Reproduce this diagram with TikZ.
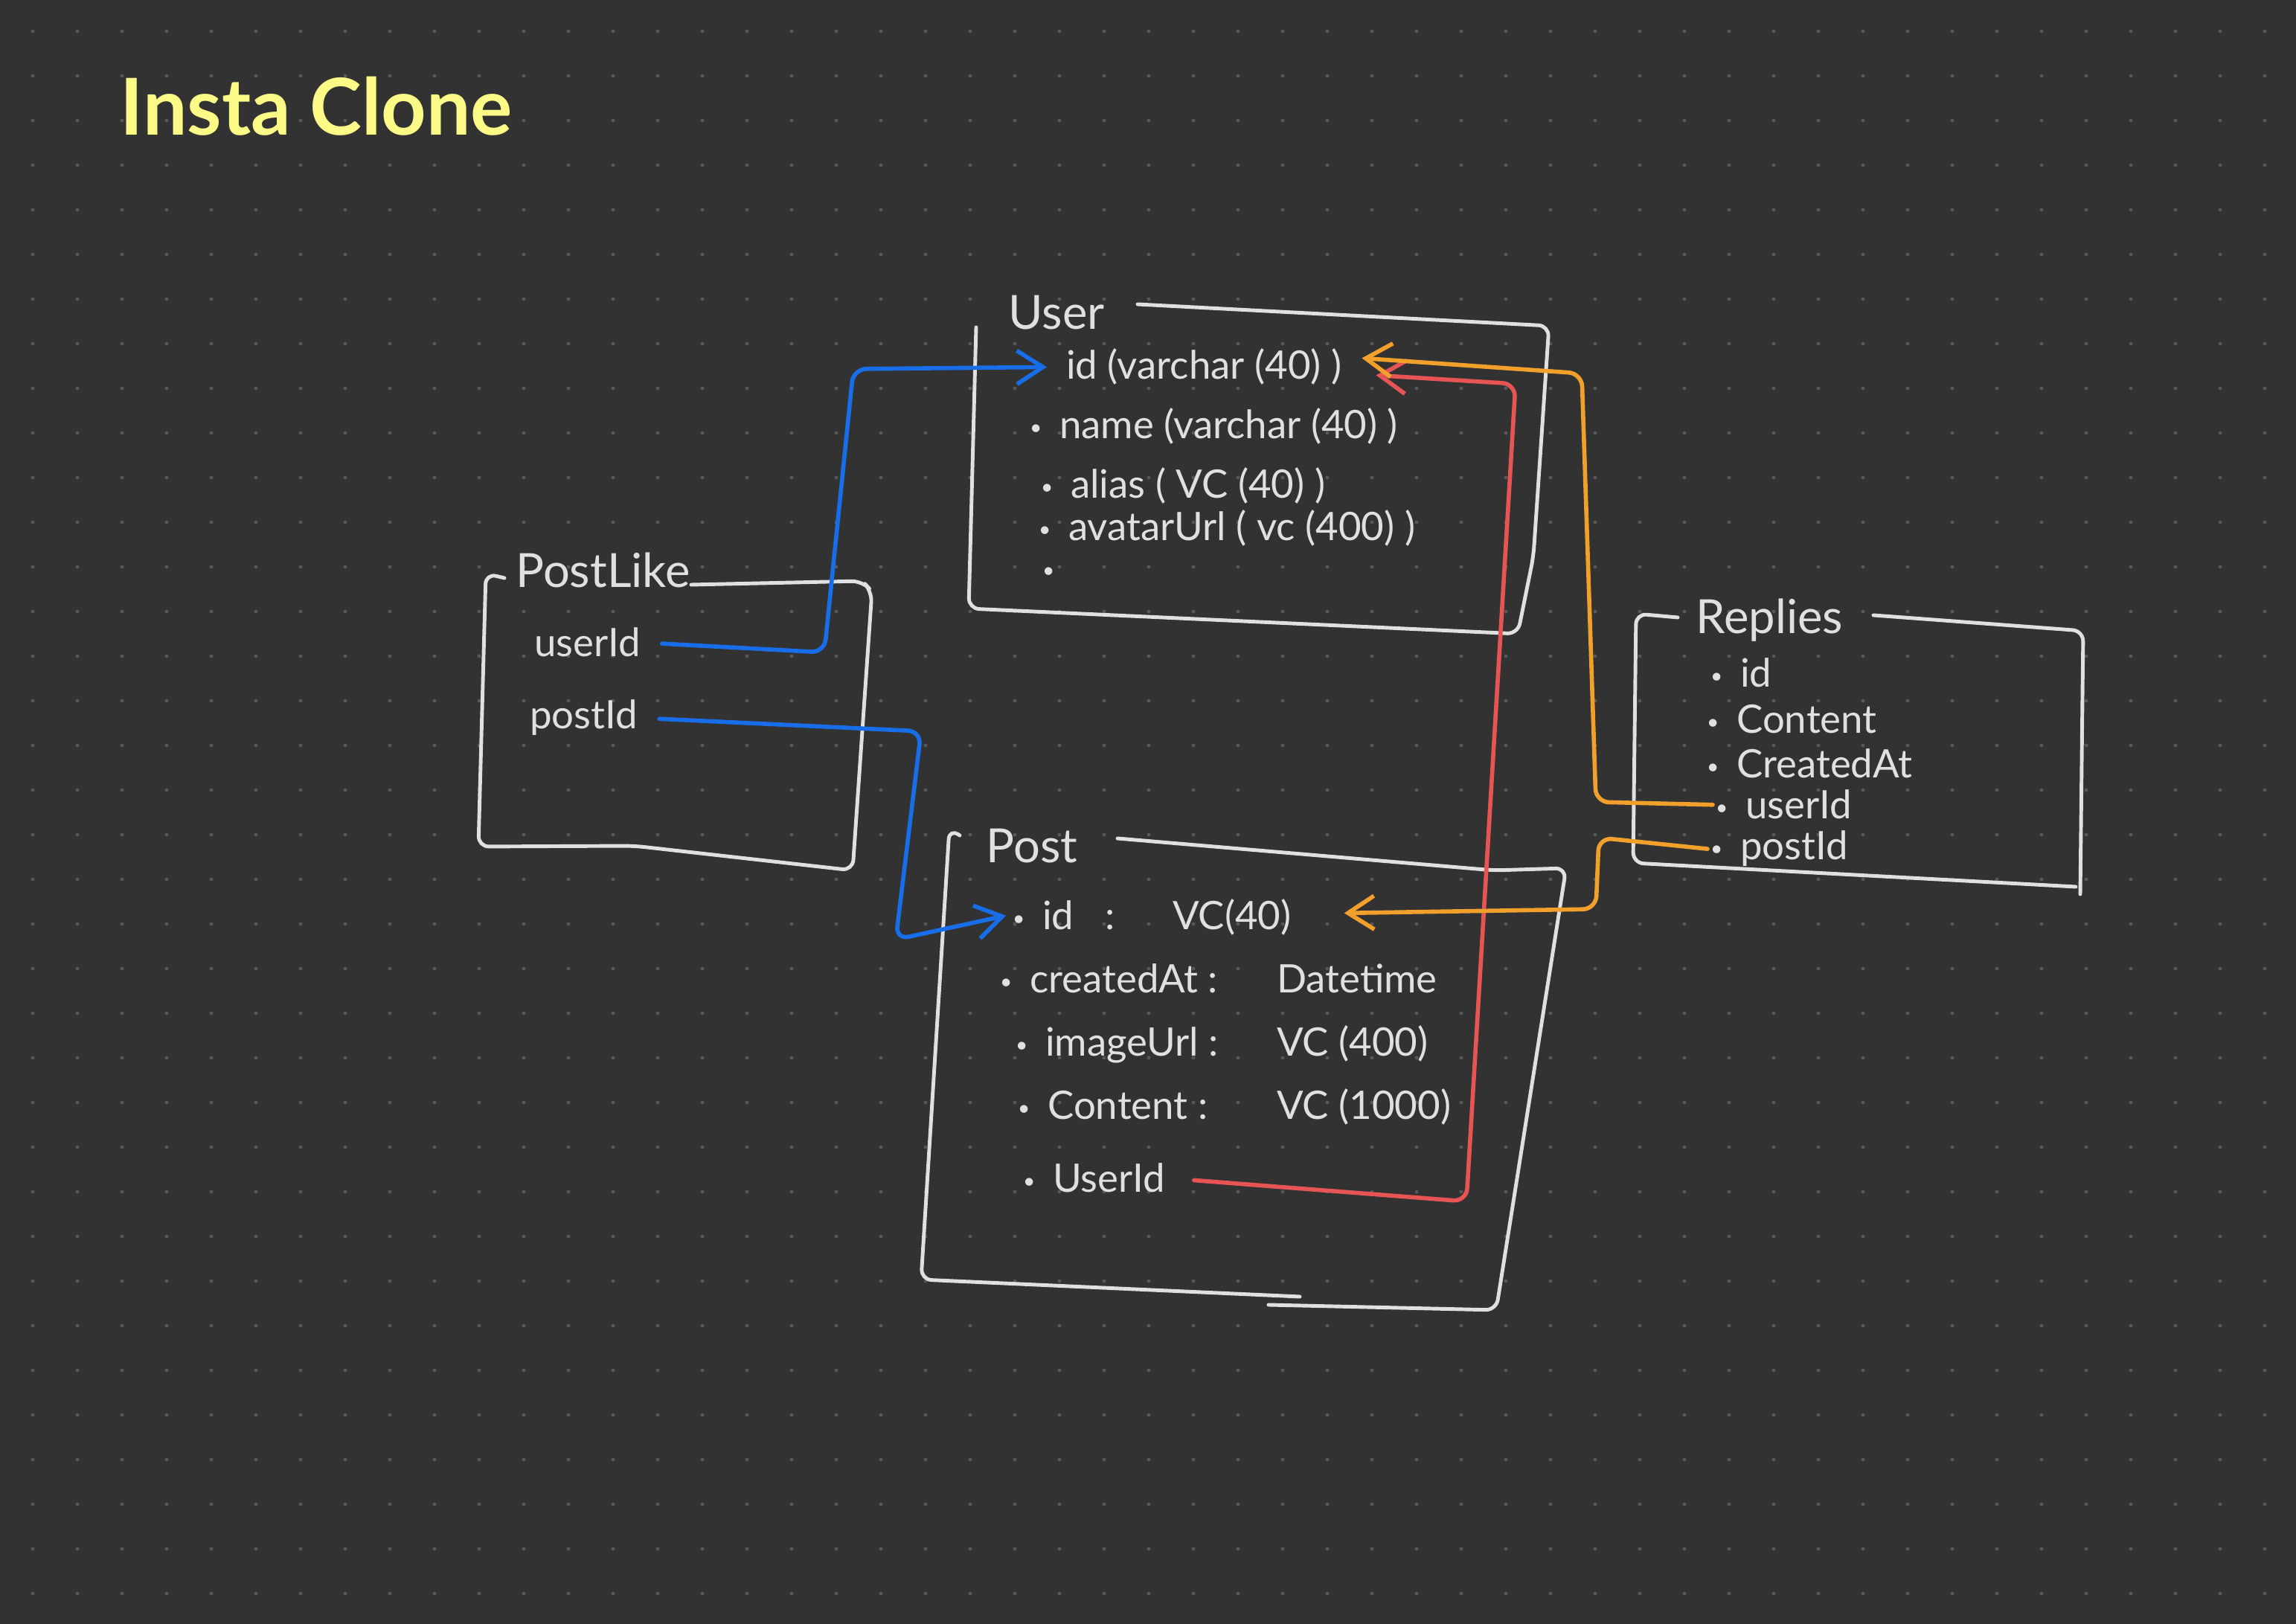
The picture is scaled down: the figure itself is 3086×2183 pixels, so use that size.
\documentclass[tikz,border=0pt]{standalone}
\usepackage{fontspec}
\setmainfont{Lato}
\usetikzlibrary{arrows.meta}
\usetikzlibrary{positioning}

\definecolor{fundo}{RGB}{50,50,50}
\definecolor{ponto}{RGB}{86,86,86}
\definecolor{giz}{RGB}{224,224,224}
\definecolor{azul}{RGB}{24,110,232}
\definecolor{vermelho}{RGB}{230,84,84}
\definecolor{laranja}{RGB}{242,160,44}
\definecolor{amarelo}{RGB}{252,250,135}

\newcommand{\bul}{\raisebox{0.2ex}{\fontsize{8}{8}\selectfont\textbullet}\hspace{0.45em}}

\begin{document}
\begin{tikzpicture}[x=0.01cm, y=-0.01cm, >={Straight Barb[length=3.5mm,width=4.5mm]},
	tabela/.style={draw=giz, line width=1.4pt, rounded corners=4pt, line cap=round, line join=round},
	ligacao/.style={line width=1.6pt, rounded corners=5pt, line cap=round},
	cabecalho/.style={text=giz, anchor=base west, inner sep=0pt, font=\fontsize{18}{20}\selectfont},
	campo/.style={text=giz, anchor=base west, inner sep=1pt, font=\fontsize{15}{17}\selectfont}]

	% Fundo pontilhado
	\fill[fundo] (0,0) rectangle (3086,2183);
	\useasboundingbox (0,0) rectangle (3086,2183);
	\foreach \i in {0,...,50}
		\foreach \j in {0,...,35}
			\fill[ponto] (44+60*\i, 42+60*\j) circle (0.25mm);

	% Titulo
	\node[anchor=base west, inner sep=0pt, text=amarelo, font=\fontsize{30}{34}\selectfont\bfseries] (nome) at (161,182) {Insta Clone};

	% Tabela User
	\node[cabecalho] (uTitulo) at (1355,443) {User};
	\draw[tabela] (1312,440) -- (1302,818) -- (2040,852) -- (2061,748) -- (2082,438) -- (1529,409);
	\node[campo] (uId) at (1429,510) {id (varchar (40) )};
	\node[campo] (uNome) at (1380,590) {\bul name (varchar (40) )};
	\node[campo] (uAlias) at (1395,670) {\bul alias ( VC (40) )};
	\node[campo] (uAvatar) at (1392,727) {\bul avatarUrl ( vc (400) )};
	\node[campo] (uMais) at (1397,782) {\bul};

	% Tabela PostLike
	\node[cabecalho] (plTitulo) at (693,790) {PostLike};
	\draw[tabela] (678,777) -- (653,771) -- (643,1138) -- (852,1137) -- (1146,1170) -- (1172,795) -- (1159,781) -- (929,786);
	\node[campo] (plUser) at (714,883) {userId};
	\node[campo] (plPost) at (708,980) {postId};

	% Tabela Post
	\node[cabecalho] (pTitulo) at (1325,1160) {Post};
	\draw[tabela] (1290,1123) -- (1276,1114) -- (1238,1720) -- (1747,1743);
	\draw[tabela] (1705,1754) -- (2011,1761) -- (2105,1167) -- (2008,1170) -- (1502,1127);
	\node[campo] (pId) at (1357,1250) {\bul id\hspace{0.8em}:};
	\node[campo] (pIdT) at (1572,1250) {VC(40)};
	\node[campo] (pCriado) at (1340,1335) {\bul createdAt :};
	\node[campo] (pCriadoT) at (1712,1335) {Datetime};
	\node[campo] (pImagem) at (1361,1420) {\bul imageUrl :};
	\node[campo] (pImagemT) at (1712,1420) {VC (400)};
	\node[campo] (pConteudo) at (1364,1505) {\bul Content :};
	\node[campo] (pConteudoT) at (1712,1505) {VC (1000)};
	\node[campo] (pUser) at (1371,1603) {\bul UserId};

	% Tabela Replies
	\node[cabecalho] (rTitulo) at (2279,852) {Replies};
	\draw[tabela] (2255,830) -- (2199,825) -- (2195,1160) -- (2790,1192);
	\draw[tabela] (2518,827) -- (2800,848) -- (2796,1202);
	\node[campo] (rId) at (2295,924) {\bul id};
	\node[campo] (rConteudo) at (2290,986) {\bul Content};
	\node[campo] (rCriado) at (2290,1046) {\bul CreatedAt};
	\node[campo] (rUser) at (2302,1101) {\bul userId};
	\node[campo] (rPost) at (2295,1156) {\bul postId};

	% Ligacoes PostLike
	\draw[ligacao, azul, ->, shorten <=2.5mm] (plUser.east) -- (1108,877) -- (1147,496) -- ([xshift=-2.2mm]uId.west);
	\draw[ligacao, azul, ->, shorten <=2.5mm] (plPost.east) -- (1238,983) -- (1204,1263) -- ([xshift=-0.5mm]pId.west);

	% Ligacao Post -> User
	\draw[ligacao, vermelho, ->, shorten <=3.5mm] (pUser.east) -- (1971,1615) -- (2037,516) -- ([xshift=4.2mm, yshift=-1.1mm]uId.east);

	% Ligacoes Replies
	\draw[ligacao, laranja, ->] (rUser.west) -- (2145,1078) -- (2126,502) -- ([xshift=2.3mm, yshift=1.2mm]uId.east);
	\draw[ligacao, laranja, ->] (rPost.west) -- (2149,1126) -- (2145,1222) -- ([xshift=6.7mm, yshift=0.6mm]pIdT.east);

\end{tikzpicture}
\end{document}
